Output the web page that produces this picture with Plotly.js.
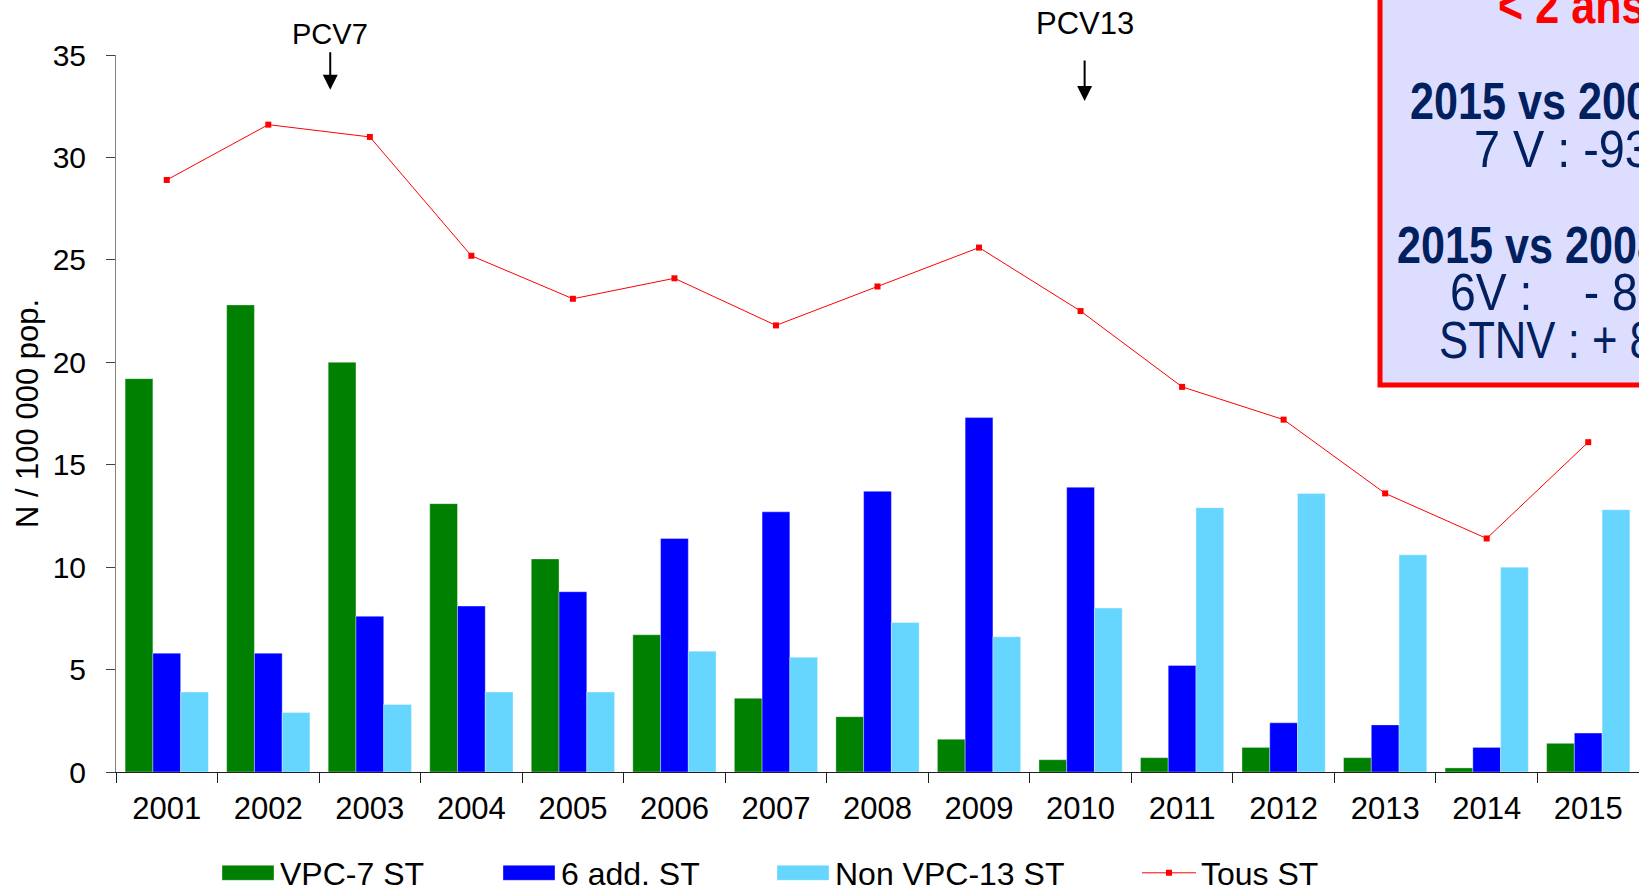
<!DOCTYPE html>
<html>
<head>
<meta charset="utf-8">
<script src="https://cdn.plot.ly/plotly-3.0.1.min.js"></script>
<style>
  html, body { margin: 0; padding: 0; background: #ffffff; }
  #chart { width: 1639px; height: 889px; }
</style>
</head>
<body>
<div id="chart"></div>
<script>
// ---- data ----
const years = ['2001','2002','2003','2004','2005','2006','2007','2008','2009','2010','2011','2012','2013','2014','2015'];
const vpc7 = [19.2, 22.8, 20.0, 13.1, 10.4, 6.7, 3.6, 2.7, 1.6, 0.6, 0.7, 1.2, 0.7, 0.2, 1.4];
const add6 = [5.8, 5.8, 7.6, 8.1, 8.8, 11.4, 12.7, 13.7, 17.3, 13.9, 5.2, 2.4, 2.3, 1.2, 1.9];
const nonVpc13 = [3.9, 2.9, 3.3, 3.9, 3.9, 5.9, 5.6, 7.3, 6.6, 8.0, 12.9, 13.6, 10.6, 10.0, 12.8];
const tousST = [28.9, 31.6, 31.0, 25.2, 23.1, 24.1, 21.8, 23.7, 25.6, 22.5, 18.8, 17.2, 13.6, 11.4, 16.1];
const seriesNames = ['VPC-7 ST', '6 add. ST', 'Non VPC-13 ST', 'Tous ST'];
const yTicks = [0, 5, 10, 15, 20, 25, 30, 35];
const boxLines = ['< 2 ans', '2015 vs 2001', '7 V : -93%', '2015 vs 2008-09', '6V :\u00A0\u00A0\u00A0\u00A0- 87%', 'STNV : + 82%'];

const FONT = 'Liberation Sans, Arial, sans-serif';
const NAVY = '#002060';
const W = 1639, H = 889;

// pixel helpers for the layout (plot area: x 116..1639, y 55..772)
const PL = 116, PW = 1523, PB = 772, PH = 717;
const px = v => (v - PL) / PW;
const py = v => (PB - v) / PH;

const traces = [
  { type: 'bar', x: years, y: vpc7, name: seriesNames[0], legend: 'legend',
    marker: { color: '#008000', line: { color: 'rgba(255,255,255,0.35)', width: 1 } } },
  { type: 'bar', x: years, y: add6, name: seriesNames[1], legend: 'legend2',
    marker: { color: '#0000FF', line: { color: 'rgba(255,255,255,0.35)', width: 1 } } },
  { type: 'bar', x: years, y: nonVpc13, name: seriesNames[2], legend: 'legend3',
    marker: { color: '#66D6FF', line: { color: 'rgba(255,255,255,0.35)', width: 1 } } },
  { type: 'scatter', mode: 'lines+markers', x: years, y: tousST, name: seriesNames[3], legend: 'legend4',
    line: { color: '#FF0000', width: 1 },
    marker: { symbol: 'square', size: 6, color: '#FF0000' } }
];

function legendAt(xp) {
  return {
    orientation: 'h', xref: 'container', yref: 'container',
    x: xp / W, y: 1 - 873 / H, xanchor: 'left', yanchor: 'middle',
    font: { family: FONT, size: 32, color: '#000000' },
    itemwidth: 54, bgcolor: 'rgba(0,0,0,0)', borderwidth: 0,
    itemclick: false, itemdoubleclick: false
  };
}

const boxAnn = (text, left, center, opts) => Object.assign({
  xref: 'paper', yref: 'paper', x: px(left), y: py(center),
  xanchor: 'left', yanchor: 'middle', showarrow: false, text: text,
  font: { family: FONT, size: 52, color: NAVY }
}, opts || {});

const layout = {
  width: W, height: H,
  margin: { l: PL, r: 0, t: 55, b: 117, autoexpand: false },
  paper_bgcolor: '#ffffff', plot_bgcolor: '#ffffff',
  font: { family: FONT, color: '#000000' },
  barmode: 'group', bargap: 0.18, bargroupgap: 0,
  showlegend: true,
  legend: legendAt(216),
  legend2: legendAt(497),
  legend3: legendAt(771),
  legend4: legendAt(1137),
  xaxis: {
    type: 'category', tickson: 'boundaries', range: [-0.5, 14.5], autorange: false,
    showline: true, linecolor: '#202020', linewidth: 1,
    ticks: 'outside', ticklen: 10, tickcolor: '#202020', tickwidth: 1,
    ticklabelstandoff: 9,
    tickfont: { family: FONT, size: 31, color: '#000000' },
    showgrid: false, zeroline: false, fixedrange: true
  },
  yaxis: {
    range: [0, 35], autorange: false, tickvals: yTicks, ticktext: yTicks.map(String),
    showline: true, linecolor: '#808080', linewidth: 1,
    ticks: 'outside', ticklen: 9, tickcolor: '#404040', tickwidth: 1,
    ticklabelstandoff: 14,
    tickfont: { family: FONT, size: 30, color: '#000000' },
    showgrid: false, zeroline: false, fixedrange: true,
    title: { text: 'N / 100 000 pop.', font: { family: FONT, size: 31, color: '#000000' }, standoff: 4 }
  },
  shapes: [
    { type: 'rect', xref: 'paper', yref: 'paper', layer: 'above',
      x0: px(1380), x1: 1.15, y0: py(385), y1: 1.3,
      fillcolor: '#DDDDFF', line: { color: '#FF0000', width: 5 } }
  ],
  annotations: [
    { x: 1.61, y: 33.3, xref: 'x', yref: 'y', text: '', showarrow: true,
      ax: 0, ay: -39, axref: 'pixel', ayref: 'pixel',
      arrowhead: 2, arrowsize: 1.5, arrowwidth: 2, arrowcolor: '#000000', standoff: 0 },
    { x: 1.61, y: py(34), xref: 'x', yref: 'paper', text: 'PCV7', showarrow: false,
      xanchor: 'center', yanchor: 'middle', font: { family: FONT, size: 29, color: '#000000' } },
    { x: 9.04, y: 32.75, xref: 'x', yref: 'y', text: '', showarrow: true,
      ax: 0, ay: -42, axref: 'pixel', ayref: 'pixel',
      arrowhead: 2, arrowsize: 1.5, arrowwidth: 2, arrowcolor: '#000000', standoff: 0 },
    { x: 9.04, y: py(23), xref: 'x', yref: 'paper', text: 'PCV13', showarrow: false,
      xanchor: 'center', yanchor: 'middle', font: { family: FONT, size: 31, color: '#000000' } },
    boxAnn('<b>' + boxLines[0] + '</b>', 1496, 5, { font: { family: FONT, size: 52, color: '#FF0000' } }),
    boxAnn('<b>' + boxLines[1] + '</b>', 1408, 101),
    boxAnn(boxLines[2], 1472, 148.5),
    boxAnn('<b>' + boxLines[3] + '</b>', 1395, 245),
    boxAnn(boxLines[4], 1448, 291.5),
    boxAnn(boxLines[5], 1437, 340)
  ]
};

// horizontal squeeze per text-box line (condensed lettering as in the reference)
const squeeze = { 4: 0.83, 5: 0.83, 6: 0.9, 7: 0.83, 8: 0.89, 9: 0.84 };

const gd = document.getElementById('chart');

function touchUp() {
  // wide bar swatches in the legends, as in the reference
  gd.querySelectorAll('.legendpoints path.legendundefined, .legendpoints path.legendbar').forEach(function (p) {
    p.setAttribute('d', 'M26,7.5H-26V-7.5H26Z');
  });
  gd.querySelectorAll('g.annotation').forEach(function (g) {
    const idx = parseInt(g.getAttribute('data-index'), 10);
    const s = squeeze[idx];
    if (!s) return;
    const t = g.querySelector('text.annotation-text');
    if (!t) return;
    const b = t.getBBox();
    t.setAttribute('transform', 'translate(' + b.x + ',0) scale(' + s + ',1) translate(' + (-b.x) + ',0)');
  });
}

Plotly.newPlot(gd, traces, layout, { displayModeBar: false, responsive: false })
  .then(function () {
    touchUp();
    gd.on('plotly_afterplot', touchUp);
    setTimeout(touchUp, 50);
  });
</script>
</body>
</html>
